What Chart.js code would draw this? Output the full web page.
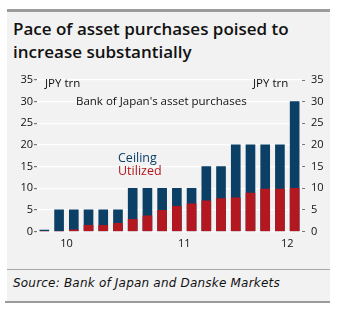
<!DOCTYPE html>
<html>
<head>
<meta charset="utf-8">
<script src="https://cdn.jsdelivr.net/npm/chart.js@4.4.1/dist/chart.umd.min.js"></script>
<style>
  html, body { margin: 0; padding: 0; background: #fff; width: 350px; height: 314px; overflow: hidden; }
  #panel { position: absolute; left: 7px; top: 9px; width: 323px; height: 293px; background: #f2f2f2;
           border-top: 3px solid #9b9b9b; box-sizing: border-box; }
  #title { position: absolute; left: 13px; top: 17px; font: 600 17px "Open Sans"; line-height: 23px; color: #111; white-space: nowrap; }
  #rule { position: absolute; left: 7px; top: 269px; width: 323px; height: 1px; background: #a8a8a8; }
  #bottom { position: absolute; left: 5px; top: 301px; width: 325px; height: 2px; background: #9b9b9b; }
  #source { position: absolute; left: 13px; top: 276px; font: italic 12px "DejaVu Sans"; letter-spacing: 0.2px; color: #111; white-space: nowrap; }
  #wrap { position: absolute; left: 0; top: 0; width: 350px; height: 314px; }
</style>
</head>
<body>
<div id="panel"></div>
<div id="title">Pace of asset purchases poised to<br>increase substantially</div>
<div id="rule"></div>
<div id="bottom"></div>
<div id="source">Source: Bank of Japan and Danske Markets</div>
<div id="wrap"><canvas id="chart" width="350" height="314"></canvas></div>
<script>
// one bar per policy step, positions 0.5 .. 17.5 on the x axis
const barIdx = [0, 1, 2, 3, 4, 5, 6, 7, 8, 9, 10, 11, 12, 13, 14, 15, 16, 17];
const ceiling = [0.3, 5, 5, 5, 5, 5, 10, 10, 10, 10, 10, 15, 15, 20, 20, 20, 20, 30];
const utilized = [0, 0, 0.4, 1.4, 1.4, 1.9, 2.8, 3.6, 4.9, 5.8, 6.4, 7.1, 7.6, 7.8, 8.9, 9.8, 9.8, 10.0];
const yearPos = [2, 10, 17];
const yearLabels = ['10', '11', '12'];

const blue = '#0b3f66';
const red = '#b3171f';

Chart.defaults.font.family = '"Open Sans"';
Chart.defaults.font.size = 11;
Chart.defaults.color = '#111';

const notes = {
  id: 'notes',
  afterDatasetsDraw(chart) {
    const c = chart.ctx;
    c.save();
    c.textBaseline = 'middle';
    c.font = '11.5px "Open Sans"';
    c.fillStyle = '#111';
    c.fillText('JPY trn', 45, 84);
    c.fillText('JPY trn', 253, 84);
    c.fillText("Bank of Japan's asset purchases", 76, 102);
    c.font = '12.5px "Open Sans"';
    c.fillStyle = blue;
    c.fillText('Ceiling', 118, 158);
    c.fillStyle = red;
    c.fillText('Utilized', 118, 171);
    c.restore();
  }
};

new Chart(document.getElementById('chart'), {
  type: 'bar',
  data: {
    datasets: [{
      label: 'Utilized',
      data: barIdx.map((i) => ({ x: i + 0.5, y: utilized[i] })),
      backgroundColor: red,
      grouped: false,
      order: 0,
      barThickness: 9
    }, {
      label: 'Ceiling',
      data: barIdx.map((i) => ({ x: i + 0.5, y: ceiling[i] })),
      backgroundColor: blue,
      grouped: false,
      order: 1,
      barThickness: 9
    }]
  },
  options: {
    responsive: false,
    animation: false,
    layout: { padding: { top: 80, right: 0, bottom: 0, left: 0 } },
    plugins: { legend: { display: false }, tooltip: { enabled: false } },
    scales: {
      x: {
        type: 'linear',
        offset: false,
        min: 0,
        max: 18,
        grid: { display: false, drawTicks: false },
        border: { display: false },
        afterBuildTicks: (s) => { s.ticks = yearPos.map((v) => ({ value: v })); },
        ticks: {
          autoSkip: false,
          maxRotation: 0,
          padding: 6,
          callback: (v) => yearLabels[yearPos.indexOf(v)]
        },
        afterFit: (s) => { s.height = 82.5; }
      },
      y: {
        position: 'left',
        min: 0,
        max: 35,
        ticks: { stepSize: 5, padding: 1 },
        grid: { color: '#ffffff', lineWidth: 1.2, tickColor: '#777', tickLength: 3 },
        border: { display: false },
        afterFit: (s) => { s.width = 37; }
      },
      y2: {
        position: 'right',
        min: 0,
        max: 35,
        ticks: { stepSize: 5, padding: 6 },
        grid: { drawOnChartArea: false, tickColor: '#777', tickLength: 3 },
        border: { display: false },
        afterFit: (s) => { s.width = 48; }
      }
    }
  },
  plugins: [notes]
});
</script>
</body>
</html>
